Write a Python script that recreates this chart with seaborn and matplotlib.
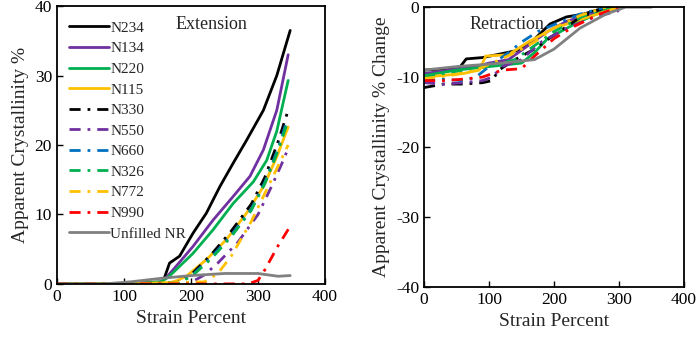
import matplotlib
matplotlib.use("Agg")
import matplotlib.pyplot as plt
import seaborn as sns

# ---- data: extension (strain %, apparent crystallinity %) ----
names = ['N234', 'N134', 'N220', 'N115', 'N330', 'N550', 'N660', 'N326', 'N772', 'N990', 'Unfilled NR']
colors = ['#000000', '#7030A0', '#00B050', '#FFC000', '#000000', '#7030A0', '#0070C0', '#00B050', '#FFC000', '#FF0000', '#808080']
dashed = [False, False, False, False, True, True, True, True, True, True, False]

ext_x = {
    'N234': [0, 100, 155, 160, 168, 183, 203, 223, 243, 263, 283, 308, 328, 348],
    'N134': [0, 100, 155, 162, 173, 203, 233, 263, 288, 308, 328, 345],
    'N220': [0, 100, 155, 165, 173, 203, 233, 263, 293, 313, 328, 345],
    'N115': [0, 100, 170, 180, 193, 223, 253, 283, 308, 328, 345],
    'N330': [0, 100, 180, 200, 230, 260, 290, 310, 330, 345],
    'N550': [0, 100, 200, 220, 240, 270, 300, 320, 335, 345],
    'N660': [0, 100, 180, 200, 230, 260, 290, 310, 330, 343],
    'N326': [0, 100, 180, 200, 230, 260, 290, 310, 330, 343],
    'N772': [0, 100, 220, 240, 260, 290, 310, 330, 345],
    'N990': [0, 100, 200, 285, 300, 310, 330, 348],
    'Unfilled NR': [0, 70, 110, 155, 200, 250, 280, 300, 330, 348],
}
ext_y = {
    'N234': [0, 0, 0, 0.8, 3.0, 4.0, 7.3, 10.2, 14.0, 17.4, 20.7, 25.0, 30.0, 36.5],
    'N134': [0, 0, 0.3, 0.8, 2.0, 5.4, 9.2, 12.6, 15.5, 19.3, 25.0, 33.0],
    'N220': [0, 0, 0.3, 0.9, 1.6, 4.4, 7.8, 11.6, 14.7, 17.8, 22.0, 29.3],
    'N115': [0, 0, 0.2, 0.5, 1.1, 3.5, 6.4, 10.2, 14.0, 18.3, 22.6],
    'N330': [0, 0, 0.2, 1.3, 4.2, 7.6, 11.5, 15.3, 20.5, 25.0],
    'N550': [0, 0, 0.2, 1.3, 3.0, 6.0, 10.0, 14.0, 17.2, 19.5],
    'N660': [0, 0, 0.2, 1.1, 3.8, 7.0, 10.8, 14.6, 19.5, 23.5],
    'N326': [0, 0, 0.2, 1.0, 3.6, 6.8, 10.6, 14.4, 19.2, 23.0],
    'N772': [0, 0, 0.3, 1.5, 4.0, 9.0, 13.0, 17.0, 20.0],
    'N990': [0, 0, 0, 0, 0.5, 2.0, 5.5, 8.3],
    'Unfilled NR': [0, 0, 0.3, 0.8, 1.2, 1.5, 1.5, 1.5, 1.1, 1.2],
}

# ---- data: retraction (strain %, change in crystallinity %) ----
ret_x = {
    'N234': [0, 40, 55, 65, 91, 117, 143, 163, 194, 219, 245, 281, 300],
    'N134': [0, 40, 80, 100, 130, 160, 190, 220, 250, 280, 300],
    'N220': [0, 50, 100, 150, 170, 190, 230, 260, 290, 300],
    'N115': [0, 60, 85, 95, 130, 160, 200, 250, 300],
    'N330': [0, 30, 60, 90, 105, 115, 140, 170, 200, 240, 280],
    'N550': [0, 30, 60, 90, 105, 120, 150, 180, 220, 260, 300],
    'N660': [0, 30, 60, 80, 100, 130, 150, 175, 200, 240, 280],
    'N326': [0, 40, 80, 110, 140, 170, 200, 240, 280],
    'N772': [0, 40, 80, 110, 140, 170, 200, 240, 280],
    'N990': [0, 30, 60, 90, 105, 120, 150, 170, 200, 230, 270, 300],
    'Unfilled NR': [0, 50, 120, 170, 200, 240, 280, 310, 350],
}
ret_y = {
    'N234': [-9.0, -8.8, -8.6, -7.4, -7.2, -6.7, -6.2, -5.2, -2.4, -1.4, -1.0, 0, 0],
    'N134': [-9.5, -9.0, -8.5, -8.0, -7.5, -5.5, -3.5, -2.0, -1.2, -0.6, -0.3],
    'N220': [-9.8, -9.0, -8.5, -8.0, -6.5, -4.5, -2.5, -1.2, 0, 0],
    'N115': [-10.0, -9.5, -9.0, -7.0, -6.8, -5.0, -3.0, -1.5, 0],
    'N330': [-11.5, -11.0, -11.0, -10.8, -10.5, -9.0, -7.5, -6.0, -4.0, -1.5, 0],
    'N550': [-10.8, -11.0, -10.8, -10.5, -10.0, -8.5, -7.5, -5.0, -3.0, -1.5, -0.5],
    'N660': [-10.5, -10.3, -10.5, -10.0, -8.5, -6.5, -5.0, -3.5, -2.5, -1.0, 0],
    'N326': [-10.0, -9.3, -8.8, -8.2, -7.5, -5.5, -3.5, -1.5, 0],
    'N772': [-10.2, -9.8, -9.0, -7.8, -6.5, -5.0, -3.0, -1.2, 0],
    'N990': [-10.5, -10.5, -10.3, -10.0, -9.5, -9.0, -8.8, -7.0, -4.5, -2.8, -1.0, 0],
    'Unfilled NR': [-9.0, -8.5, -8.0, -7.5, -6.0, -3.0, -1.0, 0, 0],
}

sns.set_style("ticks")
plt.rcParams['font.family'] = ['Liberation Serif', 'DejaVu Serif']
plt.rcParams['axes.linewidth'] = 1.3
plt.rcParams['axes.unicode_minus'] = False

fig = plt.figure(figsize=(6.99, 3.40), dpi=100)
ax1 = fig.add_axes([0.0815, 0.165, 0.3835, 0.817])
ax2 = fig.add_axes([0.6066, 0.156, 0.3719, 0.823])

dd = (0, (4, 2.5, 1, 2.5))
for name, c, d in zip(names, colors, dashed):
    ls = dd if d else '-'
    sns.lineplot(x=ext_x[name], y=ext_y[name], color=c, linestyle=ls, linewidth=2.0,
                 ax=ax1, label=name, sort=False, estimator=None)
    sns.lineplot(x=ret_x[name], y=ret_y[name], color=c, linestyle=ls, linewidth=2.0,
                 ax=ax2, sort=False, estimator=None, legend=False)

ax1.set_xlim(0, 400)
ax1.set_ylim(0, 40)
ax1.set_xticks([0, 100, 200, 300, 400])
ax1.set_yticks([0, 10, 20, 30, 40])
ax1.set_xlabel('Strain Percent', fontsize=14)
ax1.set_ylabel('Apparent Crystallinity %', fontsize=14)
ax1.text(230, 37.3, 'Extension', ha='center', va='center', fontsize=13)
ax1.legend(loc='upper left', bbox_to_anchor=(0.0, 0.99), frameon=False, fontsize=11,
           handlelength=2.6, labelspacing=0.45, handletextpad=0.1, borderaxespad=0.4)

ax2.set_xlim(0, 400)
ax2.set_ylim(-40, 0)
ax2.set_xticks([0, 100, 200, 300, 400])
ax2.set_yticks([-40, -30, -20, -10, 0])
ax2.set_xlabel('Strain Percent', fontsize=14)
ax2.set_ylabel('Apparent Crystallinity % Change', fontsize=14)
ax2.text(128, -2.5, 'Retraction', ha='center', va='center', fontsize=13)

for ax in (ax1, ax2):
    ax.tick_params(direction='in', length=4, width=1, labelsize=12.5, colors='black')
    for s in ax.spines.values():
        s.set_color('black')

fig.savefig('out.png', dpi=100)
